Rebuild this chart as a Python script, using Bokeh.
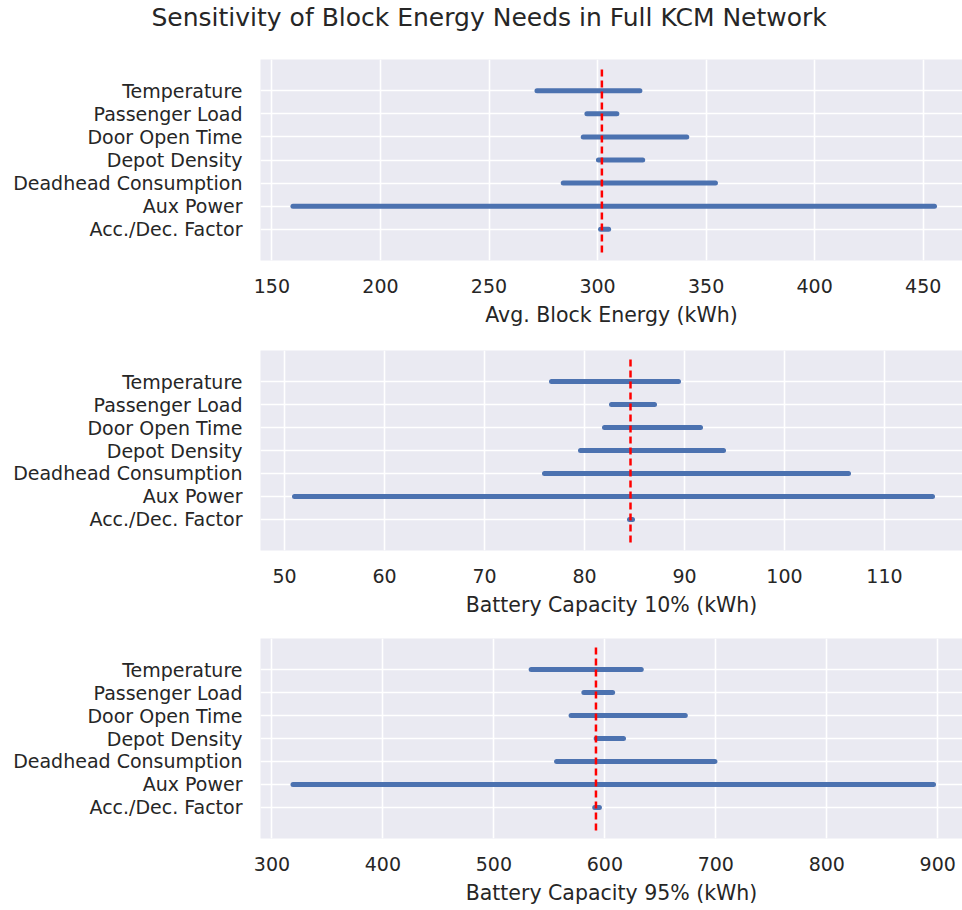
from bokeh.plotting import figure
from bokeh.layouts import column
from bokeh.models import Range1d, FixedTicker, Title
from bokeh.embed import file_html
from bokeh.resources import INLINE

# ---- data ----
factors = ["Acc./Dec. Factor", "Aux Power", "Deadhead Consumption", "Depot Density",
           "Door Open Time", "Passenger Load", "Temperature"]

energy_low = [301.4, 159.7, 284.2, 300.4, 293.4, 295.1, 272.1]
energy_high = [305.1, 455.2, 354.3, 320.8, 341.1, 308.9, 319.5]
energy_base = 302.0

cap10_low = [84.5, 51.0, 76.0, 79.6, 82.0, 82.7, 76.7]
cap10_high = [84.8, 114.8, 106.4, 93.9, 91.6, 87.0, 89.4]
cap10_base = 84.6

cap95_low = [590.9, 319.0, 556.5, 592.2, 569.6, 581.1, 533.6]
cap95_high = [595.1, 896.2, 699.2, 616.8, 672.5, 607.0, 632.8]
cap95_base = 592.0

energy_ticks = [150, 200, 250, 300, 350, 400, 450]
cap10_ticks = [50, 60, 70, 80, 90, 100, 110]
cap95_ticks = [300, 400, 500, 600, 700, 800, 900]

title_text = "Sensitivity of Block Energy Needs in Full KCM Network"
xlabels = ["Avg. Block Energy (kWh)", "Battery Capacity 10% (kWh)", "Battery Capacity 95% (kWh)"]

TXT = "#262626"
BG = "#EAEAF2"
BAR = "#4C72B0"
FONT = "DejaVu Sans"
LEFT = 260
FRAME_W = 702


def panel(low, high, base, ticks, xr, xlabel, top, bottom, frame_h):
    ypos = list(range(len(factors)))
    p = figure(width=962, height=top + frame_h + bottom, output_backend="svg",
               toolbar_location=None, x_range=Range1d(*xr), y_range=Range1d(-1.35, 7.35),
               min_border_left=LEFT, min_border_right=0, min_border_top=top,
               min_border_bottom=bottom)
    p.frame_width = FRAME_W
    p.frame_height = frame_h
    p.background_fill_color = BG
    p.border_fill_color = "white"
    p.outline_line_color = None

    p.xgrid.ticker = FixedTicker(ticks=ticks)
    p.ygrid.ticker = FixedTicker(ticks=ypos)
    for g in (p.xgrid, p.ygrid):
        g.grid_line_color = "white"
        g.grid_line_width = 1.6

    p.xaxis.ticker = FixedTicker(ticks=ticks)
    p.yaxis.ticker = FixedTicker(ticks=ypos)
    p.yaxis.major_label_overrides = {i: f for i, f in enumerate(factors)}
    for ax in (p.xaxis, p.yaxis):
        ax.axis_line_color = None
        ax.major_tick_line_color = None
        ax.minor_tick_line_color = None
        ax.major_tick_out = 0
        ax.major_tick_in = 0
        ax.major_label_text_font = FONT
        ax.major_label_text_font_size = "19px"
        ax.major_label_text_color = TXT
    p.xaxis.major_label_standoff = 18
    p.yaxis.major_label_standoff = 18
    p.xaxis.axis_label = xlabel
    p.xaxis.axis_label_text_font = FONT
    p.xaxis.axis_label_text_font_size = "20.5px"
    p.xaxis.axis_label_text_font_style = "normal"
    p.xaxis.axis_label_text_color = TXT
    p.xaxis.axis_label_standoff = 7

    p.segment(x0=low, x1=high, y0=ypos, y1=ypos, line_color=BAR, line_width=5,
              line_cap="round")
    p.segment(x0=[base], x1=[base], y0=[-1.0], y1=[7.0], line_color="red",
              line_width=2.5, line_dash="7 4")
    return p


# title strip: an empty white figure carrying the suptitle
pt = figure(width=962, height=38, output_backend="svg", toolbar_location=None,
            x_range=Range1d(0, 1), y_range=Range1d(0, 1),
            min_border_left=LEFT, min_border_right=0,
            min_border_top=2, min_border_bottom=0)
pt.frame_width = FRAME_W
pt.axis.visible = False
pt.grid.visible = False
pt.outline_line_color = None
pt.background_fill_color = "white"
pt.border_fill_color = "white"
pt.add_layout(Title(text=title_text, align="left", offset=-109, standoff=0,
                    text_font=FONT, text_font_size="25px", text_font_style="normal",
                    text_color=TXT), "above")

p1 = panel(energy_low, energy_high, energy_base, energy_ticks, (144.75, 468.1),
           xlabels[0], 21, 76, 201)
p2 = panel(cap10_low, cap10_high, cap10_base, cap10_ticks, (47.6, 117.8),
           xlabels[1], 14, 74, 200)
p3 = panel(cap95_low, cap95_high, cap95_base, cap95_ticks, (289.7, 922.3),
           xlabels[2], 14, 72, 200)

layout = column(pt, p1, p2, p3, spacing=0)
open("out.html", "w").write(file_html(layout, INLINE))
